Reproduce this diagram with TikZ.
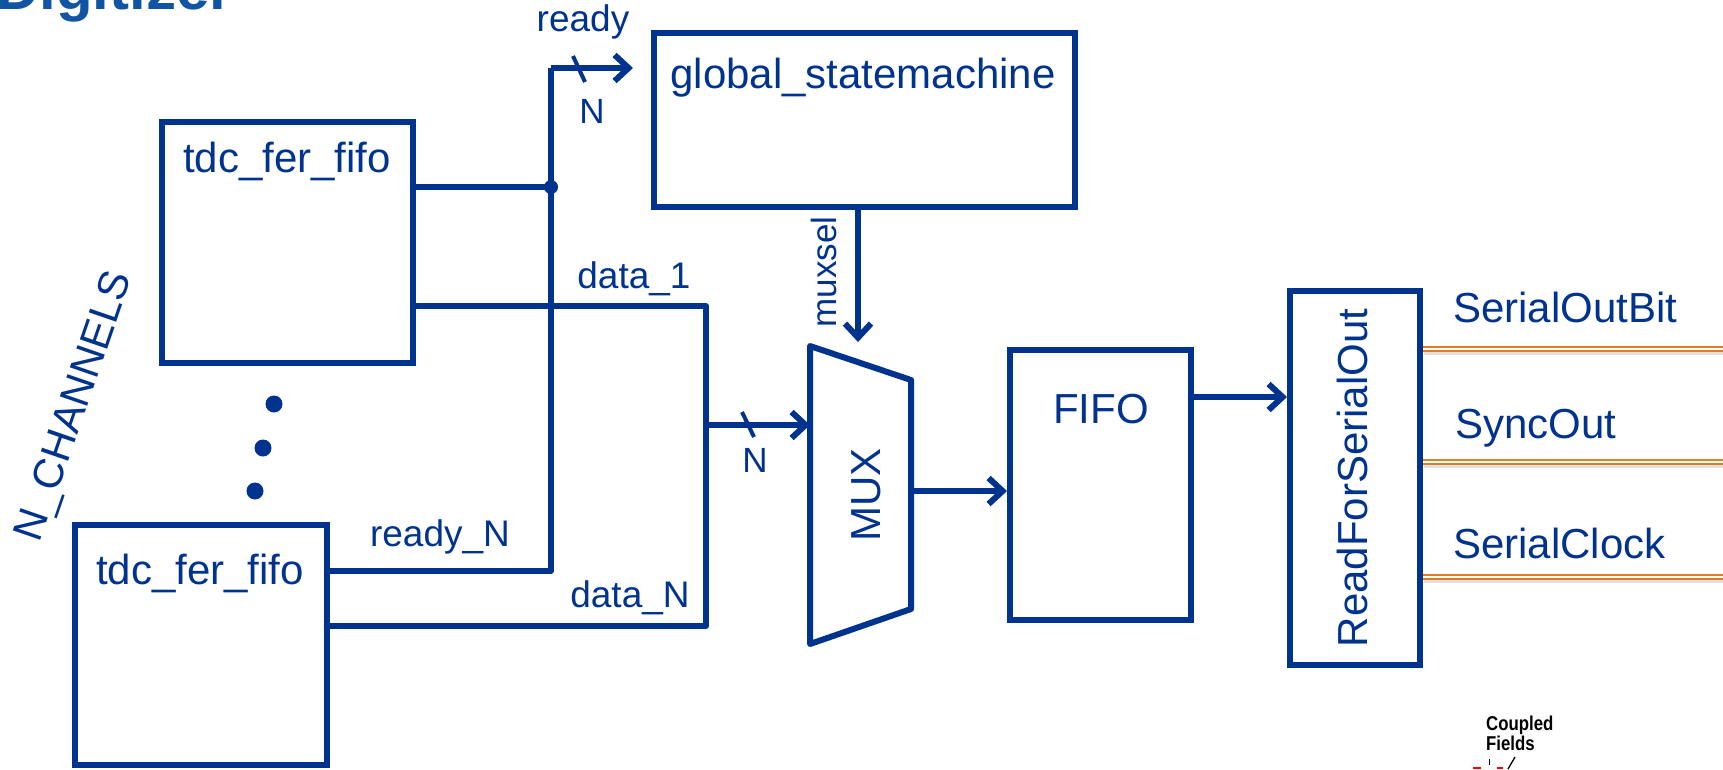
\documentclass[tikz,border=0pt]{standalone}
\usepackage{fontspec}
\setmainfont{Liberation Sans}
\usetikzlibrary{arrows.meta}
\definecolor{wire}{RGB}{0,51,141}
\definecolor{titleblue}{RGB}{18,84,164}
\definecolor{outorange}{RGB}{226,124,34}

\begin{document}
\begin{tikzpicture}[x=1pt,y=-1pt,
  wireline/.style={draw=wire,line width=6pt,line join=round},
  sig/.style={wireline,-{Straight Barb[length=14pt,width=26pt]}},
  box/.style={draw=wire,line width=6pt,rectangle,inner sep=0pt,fill=white},
  lab/.style={text=wire,inner sep=0pt,font=\fontsize{42}{48}\selectfont},
  small/.style={text=wire,inner sep=0pt,font=\fontsize{37}{42}\selectfont},
  tiny/.style={text=wire,inner sep=0pt,font=\fontsize{35}{40}\selectfont},
  outline/.style={draw=outorange,double=white,double distance=1.3pt,line width=2.7pt},
  outshade/.style={draw=black!12,line width=3pt},
  buswidth/.style={draw=wire,line width=4pt},
  dot/.style={circle,fill=wire,inner sep=0pt,minimum size=#1},
]
\useasboundingbox (0,0) rectangle (1723,769);
\clip (0,0) rectangle (1723,769);

% heading
\node[anchor=base west,inner sep=0pt,text=titleblue,
      font=\fontsize{60}{64}\selectfont\bfseries] (title) at (-4,9) {Digitizer};

% blocks
\node[box,minimum width=251pt,minimum height=241pt] (f1) at (287.5,242.5) {};
\node[box,minimum width=252pt,minimum height=240pt] (fN) at (201,645) {};
\node[box,minimum width=421pt,minimum height=174pt] (gsm) at (864.5,120) {};
\node[box,minimum width=181pt,minimum height=270pt] (fifo) at (1100.5,485) {};
\node[box,minimum width=130pt,minimum height=374pt] (rfso) at (1355,478) {};

% multiplexer outline
\coordinate (m1) at (810,346);
\coordinate (m2) at (911,380);
\coordinate (m3) at (911,609);
\coordinate (m4) at (810,644);
\draw[wireline] (m1) -- (m2) -- (m3) -- (m4) -- cycle;
\node[lab,rotate=90] (muxlbl) at (866,495) {MUX};

% block captions
\node[lab,anchor=base] (f1lbl) at (287,172) {tdc\_fer\_fifo};
\node[lab,anchor=base] (fNlbl) at (200,584) {tdc\_fer\_fifo};
\node[lab,anchor=base] (gsmlbl) at (863,88) {global\_statemachine};
\node[lab,anchor=base] (fifolbl) at (1101,423) {FIFO};
\node[lab,rotate=90] (rfsolbl) at (1352,478) {ReadForSerialOut};

% channel ellipsis and count
\node[dot=17pt] (d1) at (274,404) {};
\node[dot=17pt] (d2) at (263,448) {};
\node[dot=17pt] (d3) at (255,491) {};
\node[lab,rotate=71] (nch) at (76,407) {N\_CHANNELS};

% ready bus
\coordinate (busTop) at (551,68);
\coordinate (busJ) at (551,187);
\coordinate (busBot) at (551,571);
\coordinate (rdyEnd) at (633,68);
\draw[wireline] (f1.east |- busJ) -- (busJ);
\draw[wireline] (fN.east |- busBot) -- (busBot) -- (busTop);
\draw[sig] (busTop) -- (rdyEnd);
\node[dot=14pt] (jdot) at (busJ) {};
\draw[buswidth] (573,56) -- (585,82);
\node[tiny,anchor=base] (rdyN) at (592,123) {N};
\node[small,anchor=base] (rdylbl) at (583,31) {ready};
\node[small,anchor=base] (rdyNlbl) at (440,546) {ready\_N};

% data bus
\coordinate (dTop) at (706,306);
\coordinate (dBot) at (706,626);
\coordinate (dMid) at (706,425);
\coordinate (muxIn) at (810,425);
\draw[wireline] (f1.east |- dTop) -- (dTop) -- (dBot) -- (fN.east |- dBot);
\draw[sig] (dMid) -- (muxIn);
\draw[buswidth] (742,412) -- (754,437);
\node[tiny,anchor=base] (dN) at (755,472) {N};
\node[small,anchor=base] (d1lbl) at (634,288) {data\_1};
\node[small,anchor=base] (dNlbl) at (630,607) {data\_N};

% select line
\coordinate (selEnd) at (858,342);
\draw[sig] (gsm.south -| selEnd) -- (selEnd);
\node[tiny,rotate=90] (sellbl) at (824,272) {muxsel};

% datapath
\draw[sig] (m2 |- 0,491) -- (fifo.west |- 0,491);
\draw[sig] (fifo.east |- 0,397) -- (rfso.west |- 0,397);

% serial outputs
\foreach \yy in {349,462,577} {
  \draw[outshade] (1424,\yy+4) -- (1723,\yy+4);
  \draw[outline] (rfso.east |- 0,\yy) -- (1723,\yy);
}
\node[lab,anchor=base west] (o1) at (1453,322) {SerialOutBit};
\node[lab,anchor=base west] (o2) at (1455,438) {SyncOut};
\node[lab,anchor=base west] (o3) at (1453,558) {SerialClock};

% corner mark
\node[anchor=base west,inner sep=0pt,align=left,
      font=\fontsize{20}{20}\selectfont\bfseries] (cf) at (1486,750)
      {\scalebox{0.84}[1]{Coupled}\\\scalebox{0.84}[1]{Fields}};
\draw[line width=1.3pt] (1515,757) -- (1508,769);
\draw[line width=1pt] (1489,759) -- (1489,765);
\draw[red,line width=1.5pt] (1473,768) -- (1481,768);
\draw[red,line width=1.5pt] (1497,768) -- (1503,768);
\end{tikzpicture}
\end{document}
